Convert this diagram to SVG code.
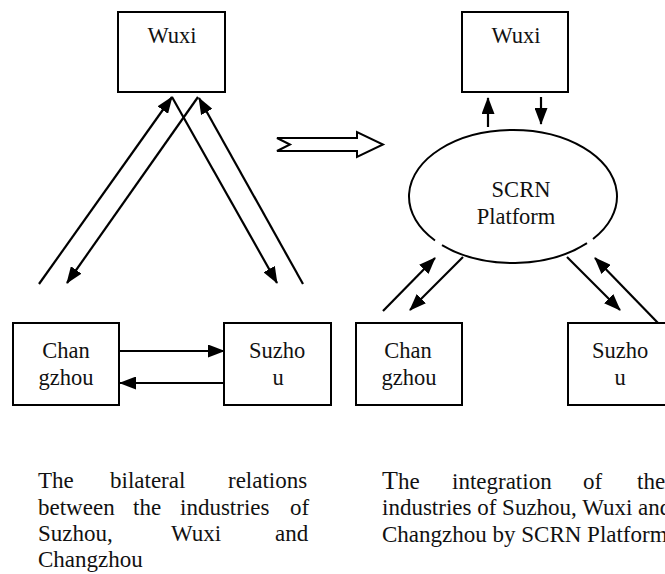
<svg xmlns="http://www.w3.org/2000/svg" width="665" height="574" viewBox="0 0 665 574">
<defs>
<style>
.box{fill:#fff;stroke:#000;stroke-width:2}
.ln{stroke:#000;stroke-width:2.2;fill:none;marker-end:url(#ah)}
</style>
<marker id="ah" markerUnits="userSpaceOnUse" markerWidth="17" markerHeight="13" refX="16" refY="6.5" orient="auto">
<path d="M0,0 L17,6.5 L0,13 z" fill="#000"/>
</marker>
</defs>
<rect width="665" height="574" fill="#fff"/>

<g id="connectors">
<line class="ln" x1="39" y1="284" x2="172" y2="97"/>
<line class="ln" x1="198" y1="97" x2="67" y2="283"/>
<line class="ln" x1="172" y1="97" x2="277" y2="283"/>
<line class="ln" x1="303" y1="284" x2="199" y2="98"/>
<line class="ln" x1="119" y1="351" x2="224" y2="351"/>
<line class="ln" x1="224" y1="383" x2="120" y2="383"/>
<line class="ln" x1="488" y1="127" x2="488" y2="98"/>
<line class="ln" x1="541" y1="97" x2="541" y2="124"/>
<line class="ln" x1="383" y1="311" x2="435" y2="258"/>
<line class="ln" x1="463" y1="257" x2="410" y2="310"/>
<line class="ln" x1="567" y1="257" x2="620" y2="310"/>
<line class="ln" x1="658" y1="323" x2="595" y2="258"/>
<polygon id="transition-arrow" points="277,138 357,138 357,132 383,144.5 357,157 357,151 277,151 290,144.5" fill="#fff" stroke="#000" stroke-width="2"/>
</g>

<g font-family="'Liberation Serif', 'Times New Roman', serif" font-size="22.5" fill="#111" text-anchor="middle">
<g id="wuxi-left">
<rect class="box" x="118" y="12" width="107" height="80"/>
<text x="172" y="43">Wuxi</text>
</g>
<g id="changzhou-left">
<rect class="box" x="13" y="323" width="106" height="82"/>
<text x="66" y="358">Chan</text>
<text x="66" y="385">gzhou</text>
</g>
<g id="suzhou-left">
<rect class="box" x="224" y="323" width="107" height="82"/>
<text x="277" y="358">Suzho</text>
<text x="278" y="385">u</text>
</g>
<g id="wuxi-right">
<rect class="box" x="462" y="12" width="106" height="80"/>
<text x="516" y="43">Wuxi</text>
</g>
<g id="scrn-platform">
<path d="M593,239 A104,66.5 0 1 0 435,240.5 M442,245.1 A104,66.5 0 0 0 587,243.2" fill="none" stroke="#000" stroke-width="2"/>
<text x="521" y="197">SCRN</text>
<text x="516" y="224">Platform</text>
</g>
<g id="changzhou-right">
<rect class="box" x="356" y="323" width="106" height="82"/>
<text x="408" y="358">Chan</text>
<text x="409" y="385">gzhou</text>
</g>
<g id="suzhou-right">
<rect class="box" x="568" y="323" width="106" height="82"/>
<text x="620" y="358">Suzho</text>
<text x="620" y="385">u</text>
</g>
</g>

<g font-family="'Liberation Serif', 'Times New Roman', serif" font-size="23" fill="#111">
<g id="caption-left">
<text y="488"><tspan x="38">The</tspan><tspan x="110">bilateral</tspan><tspan x="228">relations</tspan></text>
<text y="515"><tspan x="38">between</tspan><tspan x="133">the</tspan><tspan x="180">industries</tspan><tspan x="290">of</tspan></text>
<text y="541"><tspan x="38">Suzhou,</tspan><tspan x="171">Wuxi</tspan><tspan x="275">and</tspan></text>
<text y="567" x="38">Changzhou</text>
</g>
<g id="caption-right">
<text y="489"><tspan x="382" font-size="26">T</tspan><tspan>he</tspan><tspan x="452">integration</tspan><tspan x="583">of</tspan><tspan x="637">the</tspan></text>
<text y="515" x="382">industries of Suzhou, Wuxi and</text>
<text y="542" x="382">Changzhou by SCRN Platform</text>
</g>
</g>
</svg>
